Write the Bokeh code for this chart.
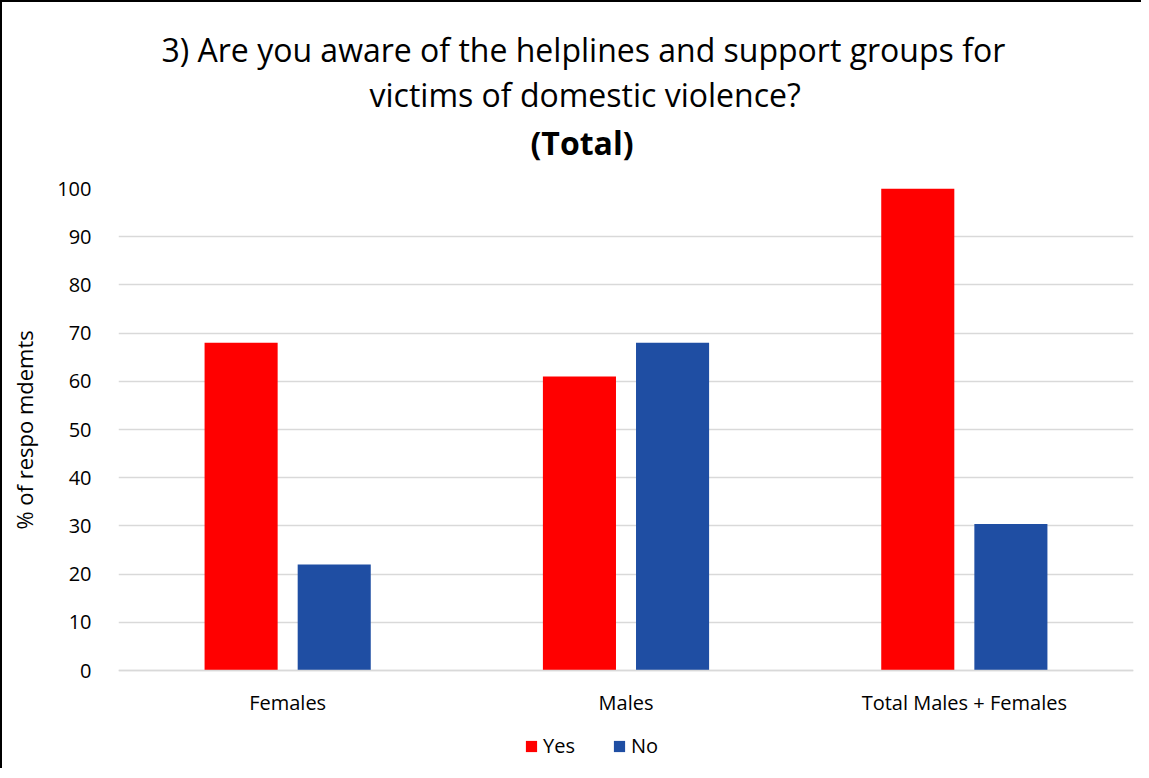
from bokeh.plotting import figure
from bokeh.models import Title, Legend, LegendItem, Range1d, FactorRange, ColumnDataSource
from bokeh.transform import dodge
from bokeh.embed import file_html
from bokeh.resources import INLINE

categories = ["Females", "Males", "Total Males + Females"]
yes_values = [68, 61, 100]
no_values = [22, 68, 30.4]
series_names = ["Yes", "No"]
y_ticks = [0, 10, 20, 30, 40, 50, 60, 70, 80, 90, 100]
title_lines = ["3) Are you aware of the helplines and support groups for",
               "victims of domestic violence?",
               "(Total)"]
y_axis_label = "% of respo mdemts"

FONT = "Open Sans"
RED = "#FF0000"
BLUE = "#1F4EA3"

source = ColumnDataSource(dict(cat=categories, yes=yes_values, no=no_values))

# frame extends below zero to hold the category labels and the legend
p = figure(frame_width=1015, frame_height=580, x_range=FactorRange(*categories),
           y_range=Range1d(-20.33, 100),
           output_backend="svg", toolbar_location=None,
           min_border_left=116, min_border_right=8, min_border_top=186, min_border_bottom=0,
           styles={"border-left": "2px solid black", "border-top": "2px solid black"})

r_yes = p.vbar(x=dodge("cat", -0.1376, range=p.x_range), top="yes", width=0.216, source=source,
               fill_color=RED, line_color=None)
r_no = p.vbar(x=dodge("cat", 0.1376, range=p.x_range), top="no", width=0.216, source=source,
              fill_color=BLUE, line_color=None)

# spacer between the frame and the title block
p.add_layout(Title(text=" ", text_font=FONT, text_font_size="1px", standoff=19), "above")

# Title lines (last added is outermost), left-aligned with offsets to centre them like the reference
title_style = ["normal", "normal", "bold"]
title_standoff = [0, 0, 6]
title_offset = [43, 251, 412]
for txt, st, so, off in reversed(list(zip(title_lines, title_style, title_standoff, title_offset))):
    p.add_layout(Title(text=txt, text_font=FONT, text_font_size="32px", text_font_style=st,
                       text_color="black", align="left", offset=off, standoff=so), "above")

p.outline_line_color = None
p.xgrid.grid_line_color = None
p.ygrid.grid_line_color = "#D9D9D9"
p.ygrid.grid_line_width = 1.5
p.yaxis.ticker = y_ticks

for ax in (p.xaxis[0], p.yaxis[0]):
    ax.axis_line_color = None
    ax.major_tick_line_color = None
    ax.minor_tick_line_color = None
    ax.major_label_text_font = FONT
    ax.major_label_text_font_size = "20px"
    ax.major_label_text_color = "black"

p.xaxis.fixed_location = 0
p.xaxis.axis_line_color = "#D9D9D9"
p.xaxis.axis_line_width = 1.5
p.xaxis.major_label_standoff = 12
p.yaxis.major_label_standoff = 21
# leading no-break spaces keep the label centred on the 0-100 part of the axis
p.yaxis.axis_label = "\u00a0" * 17 + y_axis_label
p.yaxis.axis_label_text_font = FONT
p.yaxis.axis_label_text_font_size = "22px"
p.yaxis.axis_label_text_font_style = "normal"
p.yaxis.axis_label_text_color = "black"
p.yaxis.axis_label_standoff = 15

legend = Legend(items=[LegendItem(label=series_names[0], renderers=[r_yes]),
                       LegendItem(label=series_names[1], renderers=[r_no])],
                orientation="horizontal", location=(406, 9),
                label_text_font=FONT, label_text_font_size="20px", label_text_color="black",
                glyph_width=14, glyph_height=14, label_standoff=5, spacing=37,
                border_line_color=None, background_fill_alpha=0, margin=0, padding=0)
p.add_layout(legend, "center")

open("out.html", "w").write(file_html(p, INLINE))
